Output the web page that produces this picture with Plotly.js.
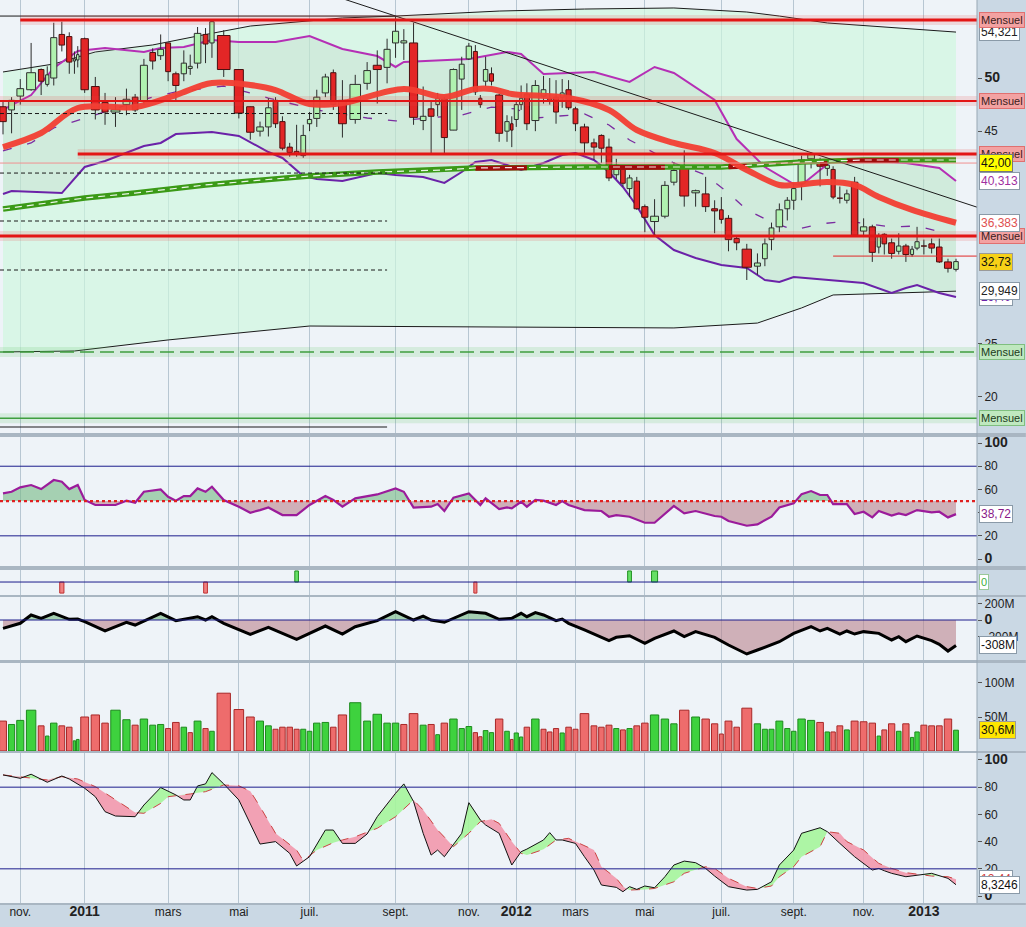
<!DOCTYPE html>
<html><head><meta charset="utf-8">
<script src="https://cdn.plot.ly/plotly-3.0.1.min.js"></script>
<style>html,body{margin:0;padding:0;background:#cad8e4;}#chart{width:1026px;height:927px;}</style>
</head><body><div id="chart"></div>
<script>
// ---------- weekly candles (week index 0..120) ----------
const open=[47.3,47.0,48.3,48.9,50.8,49.4,50.0,54.1,53.9,51.6,
51.7,53.7,49.2,47.7,46.8,47.5,48.2,47.8,52.4,52.1,
53.3,50.4,50.4,50.9,51.4,54.1,53.3,54.0,50.8,47.3,
45.0,45.4,47.9,45.9,43.5,43.1,42.7,45.7,46.2,48.6,
50.5,47.9,46.1,49.5,51.2,51.0,53.3,53.3,53.3,46.0,
47.1,47.5,48.0,45.1,49.9,51.8,52.5,48.1,49.7,50.4,
48.4,45.0,45.7,46.1,47.5,48.5,46.0,48.3,48.1,48.2,
48.2,48.9,47.1,45.4,43.9,44.6,43.5,40.9,41.5,39.6,
40.3,37.9,36.5,37.0,40.2,41.7,39.2,39.1,37.7,37.6,
36.8,34.9,33.9,32.3,33.0,34.8,36.0,37.7,38.5,40.1,
42.4,42.1,41.5,41.4,38.75,38.5,40.2,35.6,36.0,34.1,
35.3,34.5,33.7,34.2,33.4,34.0,34.25,34.4,34.1,32.7,32.0];
const high=[47.9,48.2,49.9,53.3,50.9,51.1,55.2,55.3,54.3,52.5,
53.0,53.8,50.1,48.6,48.2,49.0,48.5,51.8,52.8,54.1,
53.3,50.6,52.6,52.2,54.8,54.7,55.5,54.5,50.8,47.3,
45.9,48.1,48.2,46.4,43.9,45.6,45.6,46.8,48.9,50.4,
50.8,49.8,50.3,51.5,52.6,53.7,55.8,54.6,55.2,49.2,
47.8,48.6,48.2,50.9,52.0,53.3,53.1,48.4,52.0,51.0,
48.5,46.5,46.4,47.8,49.3,49.5,49.8,50.2,50.0,49.8,
49.9,49.8,47.3,45.7,44.3,44.7,44.3,42.4,41.7,40.9,
40.7,38.1,38.6,40.3,42.1,43.2,39.5,40.7,38.5,38.8,
37.1,35.1,34.4,33.5,34.9,36.4,38.2,38.8,40.1,42.7,
43.0,42.5,42.0,41.7,39.8,39.5,40.7,36.8,36.2,35.4,
35.4,34.9,35.4,34.4,34.2,36.0,34.8,34.9,34.9,33.0,33.0];
const low=[44.7,44.8,47.5,48.8,48.4,49.2,49.3,52.5,50.4,50.4,
51.0,48.6,46.1,45.6,45.4,46.5,46.8,47.5,50.8,51.7,
49.7,47.8,49.7,50.3,50.9,51.4,51.9,50.1,46.2,44.2,
44.5,44.5,45.3,43.2,42.6,42.6,42.5,45.0,45.4,48.2,
47.0,44.4,45.7,48.9,47.6,49.5,51.9,51.7,45.6,45.1,
42.8,46.4,42.9,45.1,47.0,51.7,48.4,47.2,49.2,49.3,
44.0,44.0,43.5,45.4,47.0,45.1,45.0,47.6,47.5,45.7,
47.2,47.0,45.0,42.9,42.3,42.0,40.3,40.5,39.8,38.8,
37.6,35.5,35.1,36.8,39.9,37.9,37.9,37.4,35.4,36.3,
33.7,33.8,31.0,31.5,32.3,33.8,35.5,36.6,37.6,38.5,
41.5,39.8,40.8,38.6,38.2,38.2,35.1,35.1,32.7,33.5,
33.4,33.0,33.4,32.7,33.2,33.8,33.4,33.5,32.6,31.7,31.8];
const close=[45.9,47.9,49.0,50.5,49.7,50.3,53.8,53.1,51.5,51.8,
52.2,48.9,47.0,46.8,47.0,48.0,47.0,51.2,51.6,52.7,
50.6,49.3,51.4,51.1,54.2,53.2,55.3,50.8,46.7,44.9,
45.4,47.2,45.7,43.4,43.0,42.9,44.6,46.1,48.2,50.1,
47.5,45.7,49.4,50.7,50.8,52.7,54.4,53.5,46.3,46.4,
46.4,48.1,44.4,50.8,51.3,53.0,48.7,47.5,50.8,49.7,
44.8,45.9,45.1,47.5,48.1,45.7,49.3,48.9,47.8,46.8,
48.6,47.2,45.7,43.9,43.5,43.4,40.6,41.8,40.1,40.6,
37.7,36.9,37.0,39.9,41.3,38.9,39.4,37.9,37.5,36.7,
34.8,34.5,32.2,32.6,34.4,35.9,37.6,38.5,39.6,42.3,
42.8,41.7,41.8,38.8,38.7,39.1,35.2,36.0,33.6,35.1,
34.4,33.5,34.2,33.4,33.9,34.6,34.2,34.0,32.7,32.1,32.73];
// weekly volume in millions (equivolume chart: bar width follows volume)
const volume=[44,39,45,60,37,22,41,37,35,15,
17,50,53,41,60,46,38,47,38,39,
33,42,35,27,44,33,29,85,61,50,
44,37,32,35,35,32,32,29,41,42,
35,53,71,44,54,41,41,39,55,38,
39,24,41,47,33,36,27,21,30,27,
47,29,17,26.5,20.6,35,47,32,28,33,
26.5,35,32,55,37,35,38,33,31,33,
37,41,53,47,40,60,50,47,40,25,
44,35,63,40,32,32,44,33,29,47,
45,42,28,28,37,31,44,43,41,22,
31,40,29,40,20,28,38,37,37,47,30.6];
const volUp=[0,1,1,1,0,1,1,0,0,1, 1,0,0,0,1,1,0,1,1,1, 0,0,1,0,1,0,1,0,0,0,
1,1,0,0,0,0,1,1,1,1, 0,0,1,1,1,1,1,0,0,1, 0,1,0,1,1,1,0,0,1,1,
0,1,0,1,1,0,1,0,0,0, 1,0,0,0,0,0,0,1,0,1, 0,0,1,1,1,0,1,0,0,0,
0,0,0,1,1,1,1,1,1,1, 1,0,1,0,0,1,0,0,0,1, 0,0,1,0,1,1,0,0,0,0,1];

// month ticks (week index of first week of month)
const tickWeek=[2,11,20,28,37,46,55,63,72,81,89,98,107,116];
const tickText=['nov.','2011','mars','mai','juil.','sept.','nov.','2012','mars','mai','juil.','sept.','nov.','2013'];

// ---------- price overlays (week index / value) ----------
const maRedIdx=[0,4,10,16,21,26,29,32,37,41,47,52,56,59,62,71,76,80,84,88,92,96,98,102,106,109,114,120];
const maRedVal=[43.51,44.83,47.18,47.27,48.40,49.53,49.34,48.87,47.56,47.65,48.97,48.22,48.97,48.97,48.50,48.12,46.99,45.11,43.89,42.95,41.35,39.94,39.94,40.22,39.94,38.81,37.59,36.383];
const maGreenIdx=[0,11,16,20,25,29,37,44,52,56,73,89,99,107,120];
const maGreenVal=[37.68,38.71,39.18,39.56,39.94,40.31,40.78,41.16,41.35,41.54,41.63,41.63,42.10,42.29,42.29];
const maDarkIdx=[56,65,null,76,83,null,90,92,null,101,102,null,105,112];
const maDarkVal=[41.52,41.55,null,41.58,41.60,null,41.66,41.70,null,41.90,41.95,null,42.22,42.25];
const bbUpIdx=[0,1,3,6,10,13,17,19,22,26,28,32,37,41,44,46,47,55,61,64,67,74,79,82,84,88,91,94,98,99,101,103,106,113,118,120];
const bbUpVal=[47.0,47.46,48.4,50.94,52.54,52.82,52.45,52.82,52.92,53.58,53.39,53.39,53.95,52.73,52.07,51.04,51.51,51.79,52.45,52.26,50.38,50.57,49.63,51.04,50.47,47.93,44.26,41.63,40.03,39.94,41.35,42.29,42.29,42.01,41.54,40.313];
const bbLoIdx=[0,1,7,11,13,17,19,21,26,28,31,33,36,38,41,44,46,49,52,54,56,59,61,64,67,70,72,74,76,78,80,82,84,86,89,92,94,96,98,104,107,111,113,115,118,120];
const bbLoVal=[39.09,39.37,39.18,41.63,42.19,43.61,43.89,44.73,44.92,44.55,43.04,42.48,40.78,40.50,40.31,41.07,40.88,40.69,40.13,41.16,42.10,42.29,41.82,41.35,42.01,42.76,42.95,42.29,41.16,39.75,37.96,35.23,33.82,33.07,32.41,32.13,31.0,30.81,31.28,30.91,30.72,29.78,30.25,30.53,29.78,29.40];
const bbMidIdx=[0,3,6,18,21,27,29,31,38,43,46,54,59,63,66,73,76,79,82,84,87,90,92,95,98,101,105,111,115,119];
const bbMidVal=[43.14,43.89,45.30,48.22,48.69,49.25,48.59,48.12,46.99,46.24,45.96,46.52,47.27,47.09,46.24,46.62,45.58,44.17,42.95,42.01,40.88,39.18,37.59,36.46,35.70,36.27,36.55,35.99,36.08,35.33];
const ltUpIdx=[0,6,12,18,24,29,41,46,60,73,84,92,96,102,120];
const ltUpVal=[50.57,51.32,52.45,53.11,53.95,54.89,55.65,55.83,56.30,56.49,56.59,56.21,55.83,55.18,54.321];
const ltLoIdx=[0,9,20,37,84,93,99,103,120];
const ltLoVal=[24.23,24.32,25.36,26.67,26.49,26.95,28.37,29.59,29.949];
const trendIdx=[46,100];
const trendVal=[55.83,42.98];

// horizontal levels
const mensuelRed=[55.46,47.84,42.85,35.14];
const mensuelRedFrom=[2,null,10,null];
const mensuelGreen=[24.22,18.0];
const level42=42.00;
const lastLevel=33.25, lastLevelFrom=103;
const fibDashed=[46.66,41.06,36.55,31.94];
const fibSolid=[55.83,17.17];
const fibEndWeek=45;

// ---------- indicators ----------
const rsiIdx=[0,1,2,3,4,6,7,8,10,11,12,14,15,16,17,19,20,21,22,23,24,25,26,27,28,29,30,31,33,35,37,39,40,41,42,43,44,46,47,48,50,51,52,53,55,57,58,60,61,62,64,65,66,67,69,70,71,73,75,76,77,79,81,82,83,84,85,86,88,89,90,92,93,95,96,98,99,100,101,102,103,105,106,107,108,109,111,112,113,115,117,118,119,120];
const rsiVal=[56.6,58.0,61.8,63.8,60.3,68.1,66.7,60.3,63.8,50.9,46.6,46.6,50.3,48.6,58.0,60.0,53.7,50.3,54.3,54.3,60.9,58.0,62.4,50.9,45.1,39.9,42.2,44.5,37.9,37.9,46.6,54.3,50.9,45.1,52.3,54.3,55.7,60.9,58.0,44.3,45.1,47.4,41.4,52.9,56.6,46.6,52.3,43.1,44.5,43.7,49.4,45.1,50.9,50.3,46.6,50.0,46.6,42.2,41.4,36.5,37.9,36.5,31.3,31.3,38.8,45.7,39.4,41.4,37.1,36.5,32.8,28.7,29.9,36.5,44.5,48.0,56.0,58.6,55.2,55.2,47.4,47.4,38.8,40.8,35.9,41.4,37.4,39.4,37.9,42.2,40.2,40.8,35.9,38.72];
const sigIdx=[7,25,35,56,79,82];
const sigVal=[-1,-1,1,-1,1,1];
const obvIdx=[0,2,3,4,6,8,10,11,13,15,16,19,21,24,25,26,27,29,31,35,39,41,42,44,46,48,49,50,52,55,58,60,62,64,65,66,67,69,70,71,73,76,77,79,81,82,84,85,86,88,90,92,93,96,98,100,101,102,104,105,106,107,109,111,112,113,115,117,118,119,120];
const obvVal=[-101,-40,61,20,81,8,12,-20,-133,-28,-61,81,-8,40,0,40,-40,-174,-89,-234,-73,-170,-81,-8,101,0,48,0,-28,101,81,8,20,81,40,89,61,-8,12,-40,-121,-250,-210,-190,-283,-222,-133,-202,-141,-210,-303,-412,-364,-263,-162,-81,-133,-101,-170,-133,-170,-141,-162,-242,-202,-263,-194,-250,-295,-376,-308];
const kIdx=[0,2,3,5,7,8,11,12,13,14,16,17,19,21,22,23,24,25,26,27,28,29,30,32,34,35,37,39,40,41,42,43,44,46,47,48,49,50,51,52,54,55,57,58,59,60,62,64,65,66,67,68,69,70,72,73,74,75,77,78,79,80,81,82,83,84,85,86,87,88,90,92,93,95,96,98,99,101,102,104,106,108,109,110,111,113,114,116,117,119,120];
const kVal=[89.0,86.5,89.5,83.6,88.2,86.0,79.2,73.0,62.0,58.8,58.3,66.9,79.7,74.3,70.6,70.6,80.9,82.4,90.7,82.4,70.6,53.4,38.2,40.0,31.4,22.1,28.9,48.5,48.5,38.7,38.7,45.6,58.3,75.5,82.4,69.4,46.1,30.1,33.8,28.9,46.1,68.6,55.9,52.2,49.8,46.1,22.8,32.6,34.5,38.0,41.2,46.6,41.2,41.2,38.7,28.9,19.1,8.1,6.4,3.2,6.9,4.9,7.4,6.1,14.2,22.8,25.7,24.5,20.3,14.7,6.9,4.4,4.9,10.5,22.8,33.8,46.1,50.2,47.3,38.7,28.9,19.1,20.3,18.6,16.7,14.2,14.7,16.2,16.7,13.0,8.3246];
const dIdx=[0,2,5,7,10,12,14,16,17,19,20,22,23,25,27,28,29,30,32,35,36,38,40,41,42,44,46,48,49,51,53,55,57,59,60,62,64,65,67,69,71,72,74,75,77,78,79,81,82,84,85,87,88,90,92,93,95,96,98,99,101,102,104,105,107,109,111,113,116,117,119,120];
const dVal=[89.0,87.7,85.3,87.7,86.0,80.4,70.6,61.3,60.8,68.1,73.0,74.3,75.0,76.7,81.6,81.0,77.0,65.7,46.1,33.8,26.0,33.8,39.2,41.2,43.6,49.8,58.3,70.6,63.2,48.5,36.3,46.1,54.7,56.4,53.4,40.0,31.4,30.1,34.3,41.2,42.4,40.0,33.8,21.6,13.0,6.9,4.4,4.9,5.6,10.5,16.7,21.6,20.3,13.0,6.9,5.6,7.4,14.2,21.6,28.9,36.3,47.3,46.1,40.0,33.8,24.0,20.3,17.2,15.4,14.7,14.2,12.44];

// ---------- geometry helpers ----------
const FONT='"Liberation Sans", Arial, sans-serif';
const H=903;
const dom=(a,b)=>[1-b/H,1-a/H];
const centers=[];{let acc=0;for(const v of volume){centers.push(acc+v/2);acc+=v;}}
const N=volume.length;
const kpp=(centers[N-1]-centers[0])/953;
const xr=[centers[0]-3*kpp, centers[N-1]+21*kpp];
const X=i=>(i==null?null:centers[i]);
const XS=a=>a.map(X);
const fr=(v,d)=>(d==null?String(v):v.toFixed(d)).replace('.',',');

function evalAt(xs,ys,x){
  if(x<=xs[0])return ys[0];
  if(x>=xs[xs.length-1])return ys[ys.length-1];
  let j=0;while(xs[j+1]<x)j++;
  const t=(x-xs[j])/(xs[j+1]-xs[j]);return ys[j]+t*(ys[j+1]-ys[j]);
}
function splitFill(ax,ay,bx,by){
  const lo=Math.max(ax[0],bx[0]),hi=Math.min(ax[ax.length-1],bx[bx.length-1]);
  const set=[...new Set([...ax,...bx])].filter(x=>x>=lo&&x<=hi).sort((p,q)=>p-q);
  const xs=[],a=[],b=[];
  for(let k=0;k<set.length;k++){
    const x=set[k],va=evalAt(ax,ay,x),vb=evalAt(bx,by,x);
    if(k>0){const px=xs[xs.length-1],pa=a[a.length-1],pb=b[b.length-1];const d0=pa-pb,d1=va-vb;
      if(d0*d1<0){const t=d0/(d0-d1);const cx=px+t*(x-px),cv=pa+t*(va-pa);xs.push(cx);a.push(cv);b.push(cv);}}
    xs.push(x);a.push(va);b.push(vb);
  }
  const top=a.map((v,i)=>Math.max(v,b[i]));const rx=xs.slice().reverse();
  return {up:{x:xs.concat(rx),y:top.concat(b.slice().reverse())},
          dn:{x:xs.concat(rx),y:top.concat(a.slice().reverse())}};
}
function polyTrace(p,color,yaxis){return {type:'scatter',mode:'lines',x:p.x,y:p.y,fill:'toself',fillcolor:color,line:{width:0},yaxis,hoverinfo:'skip'};}
function lineTrace(idx,val,color,width,yaxis,dash,extra){return Object.assign({type:'scatter',mode:'lines',x:XS(idx),y:val,line:{color,width,dash:dash||'solid'},yaxis,hoverinfo:'skip',connectgaps:false},extra||{});}

const traces=[];
// long-term envelope (mint)
traces.push(lineTrace(ltLoIdx,ltLoVal,'#1b1b1b',1,'y'));
traces.push(lineTrace(ltUpIdx,ltUpVal,'#1b1b1b',1,'y',null,{fill:'tonexty',fillcolor:'rgba(206,248,222,0.66)'}));
// bollinger bands
traces.push(lineTrace(bbLoIdx,bbLoVal,'#6b22a8',2,'y'));
traces.push(lineTrace(bbUpIdx,bbUpVal,'#b52fb5',2,'y',null,{fill:'tonexty',fillcolor:'rgba(150,160,150,0.13)'}));
traces.push(lineTrace(bbMidIdx,bbMidVal,'#7a2ca0',1.3,'y','9px,16px'));
// candles: wicks then bodies (filled polygons so they sit above the band fills)
const wx=[],wy=[];for(let i=0;i<N;i++){wx.push(X(i),X(i),null);wy.push(low[i],high[i],null);}
traces.push({type:'scatter',mode:'lines',x:wx,y:wy,line:{color:'#2b2b2b',width:1},yaxis:'y',hoverinfo:'skip'});
function bodies(up,fill,edge){
  const x=[],y=[];
  for(let i=0;i<N;i++){
    if((close[i]>=open[i])!==up)continue;
    const c=X(i),w=volume[i]*0.36;
    let b=Math.min(open[i],close[i]),t=Math.max(open[i],close[i]);
    if(t-b<0.06){const m=(t+b)/2;b=m-0.03;t=m+0.03;}
    x.push(c-w,c+w,c+w,c-w,c-w,null);y.push(b,b,t,t,b,null);
  }
  return {type:'scatter',mode:'lines',x,y,fill:'toself',fillcolor:fill,line:{color:edge,width:1},yaxis:'y',hoverinfo:'skip'};
}
traces.push(bodies(true,'#b0f2b0','#2e2e2e'));
traces.push(bodies(false,'#e32626','#4a1010'));
// moving averages
traces.push(lineTrace(maGreenIdx,maGreenVal,'#3b9a17',5.5,'y'));
traces.push(lineTrace(maDarkIdx,maDarkVal,'#a00c0c',5,'y'));
traces.push(lineTrace(maGreenIdx,maGreenVal,'rgba(255,255,255,0.9)',1.2,'y','7px,5px'));
traces.push(lineTrace(maRedIdx,maRedVal,'rgba(242,62,50,0.95)',6,'y',null,{line:{color:'rgba(242,62,50,0.95)',width:6,shape:'spline'}}));
// trendline through two highs, extended
{const x0=X(trendIdx[0]),x1=X(trendIdx[1]);const s=(trendVal[1]-trendVal[0])/(x1-x0);
 const xa=X(40),xb=xr[1];
 traces.push({type:'scatter',mode:'lines',x:[xa,xb],y:[trendVal[0]+s*(xa-x0),trendVal[0]+s*(xb-x0)],line:{color:'#1b1b1b',width:1},yaxis:'y',hoverinfo:'skip'});}

// RSI
{const ax=XS(rsiIdx);const f=splitFill(ax,rsiVal,[ax[0],ax[ax.length-1]],[50,50]);
 traces.push(polyTrace(f.up,'rgba(120,185,135,0.62)','y2'));
 traces.push(polyTrace(f.dn,'rgba(185,128,138,0.58)','y2'));
 traces.push(lineTrace(rsiIdx,rsiVal,'#9b1b9b',2.2,'y2'));}
// signals
traces.push({type:'bar',x:XS(sigIdx),y:sigVal.map(v=>v*0.92),base:0,width:sigIdx.map(i=>volume[i]*0.55),
  marker:{color:sigVal.map(v=>v>0?'#66e066':'#f08080'),line:{color:sigVal.map(v=>v>0?'#1f8f1f':'#c03030'),width:1}},yaxis:'y3',hoverinfo:'skip'});
// OBV
{const ax=XS(obvIdx);const f=splitFill(ax,obvVal,[ax[0],ax[ax.length-1]],[0,0]);
 traces.push(polyTrace(f.up,'rgba(120,185,135,0.62)','y4'));
 traces.push(polyTrace(f.dn,'rgba(185,128,138,0.58)','y4'));
 traces.push(lineTrace(obvIdx,obvVal,'#000',3,'y4'));}
// volume
traces.push({type:'bar',x:centers,y:volume,width:volume.map(v=>v*0.76),
  marker:{color:volUp.map(u=>u?'#3ed23e':'#ee6c6c'),line:{color:volUp.map(u=>u?'#1d8a1d':'#a82828'),width:1}},yaxis:'y5',hoverinfo:'skip'});
// stochastic
{const f=splitFill(XS(kIdx),kVal,XS(dIdx),dVal);
 traces.push(polyTrace(f.up,'rgba(165,245,155,0.9)','y6'));
 traces.push(polyTrace(f.dn,'rgba(242,152,172,0.9)','y6'));
 traces.push(lineTrace(dIdx,dVal,'#cc4444',1,'y6','dash'));
 traces.push(lineTrace(kIdx,kVal,'#111',1,'y6'));}

// ---------- shapes ----------
const shapes=[];
function hl(y,x0,x1,color,width,dash,yref){shapes.push({type:'line',xref:'x',yref:yref||'y',x0,x1,y0:y,y1:y,line:{color,width,dash:dash||'solid'},layer:'above'});}
function phl(y,yref,color,width,dash){shapes.push({type:'line',xref:'paper',yref,x0:0,x1:1,y0:y,y1:y,line:{color,width,dash:dash||'solid'},layer:'above'});}
fibDashed.forEach(v=>hl(v,xr[0],X(fibEndWeek),'#1a1a1a',1,'4px,3px'));
hl(fibSolid[0],xr[0],X(46),'#1a1a1a',1);
hl(fibSolid[1],xr[0],X(fibEndWeek),'#1a1a1a',1);
hl(level42,xr[0],xr[1],'#f09090',1);
hl(lastLevel,X(lastLevelFrom),xr[1],'#e02828',1);
mensuelRed.forEach((v,k)=>{const x0=mensuelRedFrom[k]==null?xr[0]:X(mensuelRedFrom[k]);
  hl(v,x0,xr[1],'rgba(235,70,70,0.16)',10);hl(v,x0,xr[1],'#e31515',k===1?2:3);});
mensuelGreen.forEach((v,k)=>{hl(v,xr[0],xr[1],'rgba(90,190,90,0.16)',10);hl(v,xr[0],xr[1],'#3f9f3f',1.5,k===0?'14px,6px':'solid');});
phl(80,'y2','#1c1c8c',1);phl(20,'y2','#1c1c8c',1);phl(50,'y2','#e02020',2.2,'dot');
phl(0,'y3','#1c1c8c',1);phl(0,'y4','#1c1c8c',1);
phl(80,'y6','#1c1c8c',1);phl(20,'y6','#1c1c8c',1);
[[433,437],[566,570],[595,597],[660,663],[751,753],[903,905]].forEach(([a,b])=>{
  shapes.push({type:'rect',xref:'paper',yref:'paper',x0:0,x1:1.05,y0:1-b/H,y1:1-a/H,fillcolor:'#a9b6c2',line:{width:0},layer:'above'});});
shapes.push({type:'line',xref:'paper',yref:'paper',x0:1,x1:1,y0:0,y1:1,line:{color:'#98a7b4',width:1},layer:'above'});

// ---------- value tags ----------
function tag(text,yref,y,bg,color,border,size){return {xref:'paper',x:1,xanchor:'left',xshift:2,yref,y,yanchor:'middle',text,showarrow:false,
  font:{family:FONT,size:size||12,color:color||'#222'},bgcolor:bg||'#ffffff',bordercolor:border||'#8a9aa8',borderwidth:1,borderpad:1};}
const ann=[];
ann.push(tag(fr(ltUpVal[ltUpVal.length-1]),'y',ltUpVal[ltUpVal.length-1]));
mensuelRed.forEach(v=>ann.push(tag('Mensuel','y',v,'#f3a2a2','#3a2020','#e07070',11)));
ann.push(tag(fr(level42,2),'y',level42,'#ffff00','#111','#777'));
ann.push(tag(fr(bbUpVal[bbUpVal.length-1]),'y',bbUpVal[bbUpVal.length-1],'#ffffff','#a030a0'));
ann.push(tag(fr(maRedVal[maRedVal.length-1]),'y',maRedVal[maRedVal.length-1],'#ffffff','#e05050'));
ann.push(tag(fr(close[N-1]),'y',close[N-1],'#f7d117','#111','#999'));
ann.push(tag(fr(bbLoVal[bbLoVal.length-1],2),'y',bbLoVal[bbLoVal.length-1],'#ffffff','#6b22a8'));
ann.push(tag(fr(ltLoVal[ltLoVal.length-1]),'y',ltLoVal[ltLoVal.length-1]));
mensuelGreen.forEach(v=>ann.push(tag('Mensuel','y',v,'#bfe8bf','#203a20','#7fbf7f',11)));
ann.push(tag(fr(rsiVal[rsiVal.length-1]),'y2',rsiVal[rsiVal.length-1],'#ffffff','#8a1a8a'));
ann.push(tag('0','y3',0,'#ffffff','#40b040','#9ac89a',11));
ann.push(tag(obvVal[obvVal.length-1]+'M','y4',obvVal[obvVal.length-1],'#ffffff','#111'));
ann.push(tag(fr(volume[N-1])+'M','y5',volume[N-1],'#ffe600','#111','#999'));
ann.push(tag(fr(dVal[dVal.length-1]),'y6',dVal[dVal.length-1],'#ffffff','#d04040'));
ann.push(tag(fr(kVal[kVal.length-1]),'y6',kVal[kVal.length-1],'#ffffff','#111'));

// ---------- axes ----------
const tf={family:FONT,size:12,color:'#222'};
const yb={side:'right',anchor:'x',showgrid:false,zeroline:false,ticks:'outside',ticklen:4,tickcolor:'#555',tickfont:tf,showline:false,fixedrange:true};
const big=t=>'<span style="font-size:14px"><b>'+t+'</b></span>';
const layout={
  width:1026,height:927,margin:{l:0,r:49,t:0,b:24},
  paper_bgcolor:'#cad8e4',plot_bgcolor:'#eef3f8',showlegend:false,barmode:'overlay',
  xaxis:{domain:[0,1],range:xr,anchor:'y6',tickvals:tickWeek.map(X),
    ticktext:tickText.map(t=>/^\d{4}$/.test(t)?big(t):t),tickfont:{family:FONT,size:12,color:'#222'},
    showgrid:true,gridcolor:'#b7c6d2',gridwidth:1,zeroline:false,showline:false,ticks:'',rangeslider:{visible:false},fixedrange:true},
  yaxis:Object.assign({},yb,{domain:dom(0,433),range:[57.34-433/10.63,57.34],tickvals:[20,25,45,50],ticktext:['20','25','45',big('50')]}),
  yaxis2:Object.assign({},yb,{domain:dom(437,566),range:[-6.0,105.2],tickvals:[0,20,40,60,80,100],ticktext:[big('0'),'20','40','60','80',big('100')]}),
  yaxis3:Object.assign({},yb,{domain:dom(570,595),range:[-1.08,1.0],showticklabels:false,ticks:''}),
  yaxis4:Object.assign({},yb,{domain:dom(597,660),range:[-484.8,278.8],tickvals:[200,0,-200],ticktext:['200M',big('0'),'-200M']}),
  yaxis5:Object.assign({},yb,{domain:dom(663,751),range:[0,129.4],tickvals:[50,100],ticktext:['50M','100M']}),
  yaxis6:Object.assign({},yb,{domain:dom(753,903),range:[-5.1,105.1],tickvals:[0,20,40,60,80,100],ticktext:[big('0'),'20','40','60','80',big('100')]}),
  shapes,annotations:ann
};
Plotly.newPlot('chart',traces,layout,{displayModeBar:false,staticPlot:true});
</script></body></html>
